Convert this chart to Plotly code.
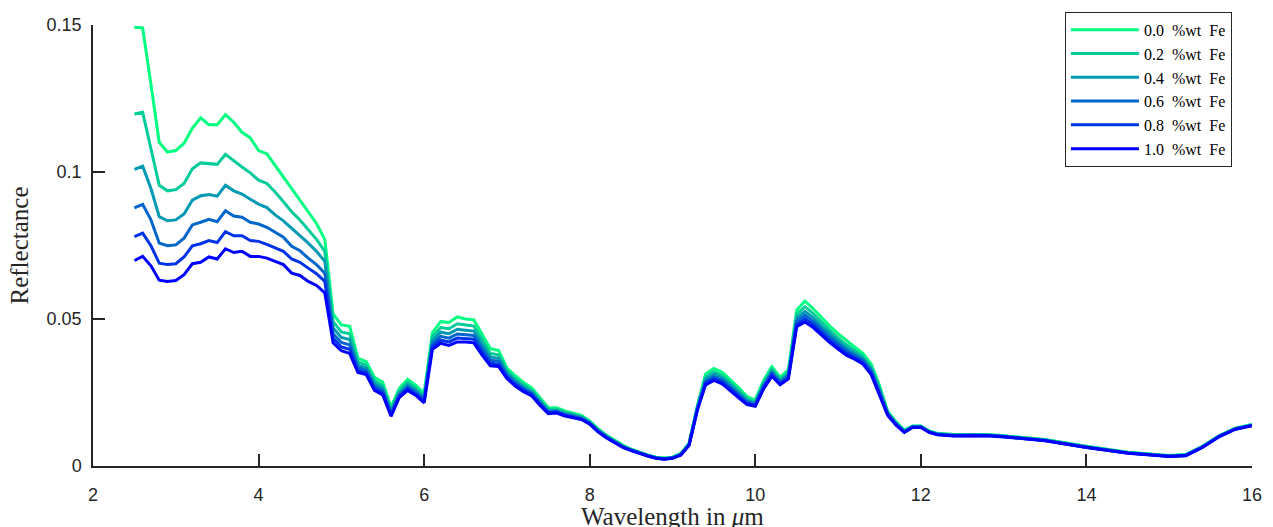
import plotly.graph_objects as go

wavelength = [2.5, 2.6, 2.7, 2.8, 2.9, 3.0, 3.1, 3.2, 3.3, 3.4, 3.5, 3.6, 3.7, 3.8, 3.9,
              4.0, 4.1, 4.2, 4.3, 4.4, 4.5, 4.6, 4.7, 4.8, 4.9,
              5.0, 5.1, 5.2, 5.3, 5.4, 5.5, 5.6, 5.7, 5.8, 5.9,
              6.0, 6.1, 6.2, 6.3, 6.4, 6.5, 6.6, 6.7, 6.8, 6.9,
              7.0, 7.1, 7.2, 7.3, 7.4, 7.5, 7.6, 7.7, 7.8, 7.9,
              8.0, 8.1, 8.2, 8.3, 8.4, 8.5, 8.6, 8.7, 8.8, 8.9,
              9.0, 9.1, 9.2, 9.3, 9.4, 9.5, 9.6, 9.7, 9.8, 9.9,
              10.0, 10.1, 10.2, 10.3, 10.4, 10.5, 10.6, 10.7, 10.8, 10.9,
              11.0, 11.1, 11.2, 11.3, 11.4, 11.5, 11.6, 11.7, 11.8, 11.9,
              12.0, 12.1, 12.2, 12.4, 12.6, 12.8, 13.0, 13.5, 14.0, 14.5,
              15.0, 15.2, 15.4, 15.6, 15.8, 16.0]

refl_fe00 = [0.1492, 0.1490, 0.1298, 0.1101, 0.1068, 0.1073, 0.1098, 0.1149, 0.1184, 0.1161, 0.1161, 0.1195, 0.1169, 0.1135, 0.1116,
             0.1073, 0.1062, 0.1023, 0.0983, 0.0944, 0.0904, 0.0865, 0.0825, 0.0771, 0.0517,
             0.0480, 0.0475, 0.0367, 0.0355, 0.0302, 0.0285, 0.0200, 0.0264, 0.0295, 0.0274,
             0.0247, 0.0454, 0.0491, 0.0488, 0.0507, 0.0500, 0.0497, 0.0449, 0.0399, 0.0393,
             0.0333, 0.0307, 0.0284, 0.0266, 0.0230, 0.0198, 0.0198, 0.0187, 0.0180, 0.0172,
             0.0153, 0.0127, 0.0105, 0.0088, 0.0071, 0.0057, 0.0047, 0.0038, 0.0030, 0.0027,
             0.0030, 0.0043, 0.0078, 0.0205, 0.0313, 0.0332, 0.0319, 0.0294, 0.0266, 0.0236,
             0.0225, 0.0291, 0.0338, 0.0302, 0.0327, 0.0530, 0.0561, 0.0535, 0.0504, 0.0476,
             0.0450, 0.0426, 0.0405, 0.0383, 0.0347, 0.0274, 0.0186, 0.0150, 0.0122, 0.0136,
             0.0136, 0.0119, 0.0111, 0.0107, 0.0108, 0.0107, 0.0103, 0.0090, 0.0067, 0.0047,
             0.0036, 0.0039, 0.0067, 0.0103, 0.0129, 0.0141]

refl_fe02 = [0.1197, 0.1203, 0.1079, 0.0955, 0.0936, 0.0940, 0.0961, 0.1011, 0.1031, 0.1028, 0.1026, 0.1060, 0.1037, 0.1017, 0.0997,
             0.0972, 0.0961, 0.0932, 0.0899, 0.0865, 0.0837, 0.0805, 0.0771, 0.0730, 0.0491,
             0.0456, 0.0450, 0.0354, 0.0343, 0.0290, 0.0273, 0.0192, 0.0256, 0.0285, 0.0265,
             0.0238, 0.0439, 0.0471, 0.0467, 0.0484, 0.0479, 0.0476, 0.0430, 0.0383, 0.0378,
             0.0324, 0.0298, 0.0276, 0.0258, 0.0224, 0.0193, 0.0193, 0.0182, 0.0176, 0.0168,
             0.0150, 0.0124, 0.0103, 0.0086, 0.0069, 0.0056, 0.0046, 0.0037, 0.0029, 0.0026,
             0.0029, 0.0041, 0.0076, 0.0201, 0.0303, 0.0321, 0.0308, 0.0284, 0.0257, 0.0229,
             0.0219, 0.0283, 0.0329, 0.0295, 0.0319, 0.0515, 0.0542, 0.0518, 0.0488, 0.0461,
             0.0436, 0.0413, 0.0394, 0.0373, 0.0337, 0.0266, 0.0182, 0.0147, 0.0120, 0.0135,
             0.0135, 0.0118, 0.0110, 0.0106, 0.0107, 0.0106, 0.0102, 0.0089, 0.0066, 0.0046,
             0.0035, 0.0038, 0.0066, 0.0102, 0.0128, 0.0140]

refl_fe04 = [0.1009, 0.1020, 0.0944, 0.0848, 0.0834, 0.0837, 0.0857, 0.0904, 0.0919, 0.0923, 0.0918, 0.0955, 0.0936, 0.0925, 0.0907,
             0.0891, 0.0879, 0.0854, 0.0834, 0.0809, 0.0786, 0.0758, 0.0730, 0.0696, 0.0469,
             0.0437, 0.0430, 0.0343, 0.0333, 0.0280, 0.0264, 0.0185, 0.0249, 0.0276, 0.0257,
             0.0231, 0.0426, 0.0455, 0.0450, 0.0465, 0.0462, 0.0459, 0.0414, 0.0371, 0.0366,
             0.0316, 0.0290, 0.0269, 0.0252, 0.0218, 0.0188, 0.0189, 0.0179, 0.0172, 0.0165,
             0.0148, 0.0122, 0.0101, 0.0084, 0.0067, 0.0055, 0.0045, 0.0036, 0.0028, 0.0025,
             0.0028, 0.0040, 0.0074, 0.0198, 0.0295, 0.0312, 0.0299, 0.0276, 0.0249, 0.0223,
             0.0214, 0.0277, 0.0322, 0.0289, 0.0312, 0.0503, 0.0526, 0.0504, 0.0475, 0.0449,
             0.0425, 0.0402, 0.0384, 0.0365, 0.0329, 0.0259, 0.0179, 0.0145, 0.0118, 0.0134,
             0.0134, 0.0117, 0.0109, 0.0105, 0.0106, 0.0105, 0.0101, 0.0088, 0.0065, 0.0045,
             0.0034, 0.0037, 0.0065, 0.0101, 0.0127, 0.0139]

refl_fe06 = [0.0878, 0.0890, 0.0837, 0.0758, 0.0749, 0.0752, 0.0775, 0.0820, 0.0829, 0.0839, 0.0831, 0.0868, 0.0850, 0.0846, 0.0829,
             0.0823, 0.0812, 0.0794, 0.0778, 0.0747, 0.0732, 0.0707, 0.0685, 0.0656, 0.0450,
             0.0420, 0.0412, 0.0334, 0.0325, 0.0271, 0.0256, 0.0179, 0.0243, 0.0269, 0.0251,
             0.0225, 0.0415, 0.0441, 0.0435, 0.0449, 0.0447, 0.0444, 0.0400, 0.0360, 0.0356,
             0.0309, 0.0283, 0.0263, 0.0247, 0.0214, 0.0184, 0.0186, 0.0175, 0.0169, 0.0162,
             0.0146, 0.0120, 0.0099, 0.0082, 0.0066, 0.0054, 0.0044, 0.0035, 0.0027, 0.0024,
             0.0027, 0.0039, 0.0073, 0.0195, 0.0288, 0.0304, 0.0292, 0.0269, 0.0243, 0.0218,
             0.0210, 0.0271, 0.0316, 0.0284, 0.0306, 0.0492, 0.0513, 0.0491, 0.0464, 0.0438,
             0.0415, 0.0393, 0.0376, 0.0359, 0.0323, 0.0253, 0.0176, 0.0143, 0.0117, 0.0133,
             0.0133, 0.0116, 0.0108, 0.0104, 0.0105, 0.0104, 0.0100, 0.0087, 0.0064, 0.0044,
             0.0033, 0.0036, 0.0064, 0.0100, 0.0126, 0.0138]

refl_fe08 = [0.0780, 0.0792, 0.0749, 0.0690, 0.0685, 0.0688, 0.0711, 0.0749, 0.0756, 0.0767, 0.0760, 0.0797, 0.0783, 0.0783, 0.0767,
             0.0764, 0.0754, 0.0741, 0.0730, 0.0704, 0.0693, 0.0673, 0.0654, 0.0628, 0.0434,
             0.0405, 0.0397, 0.0325, 0.0318, 0.0264, 0.0248, 0.0174, 0.0238, 0.0263, 0.0245,
             0.0220, 0.0406, 0.0428, 0.0422, 0.0435, 0.0434, 0.0431, 0.0388, 0.0350, 0.0346,
             0.0303, 0.0277, 0.0258, 0.0242, 0.0210, 0.0181, 0.0183, 0.0173, 0.0166, 0.0160,
             0.0144, 0.0118, 0.0097, 0.0080, 0.0064, 0.0053, 0.0043, 0.0035, 0.0027, 0.0024,
             0.0027, 0.0038, 0.0071, 0.0192, 0.0282, 0.0297, 0.0285, 0.0263, 0.0237, 0.0213,
             0.0206, 0.0266, 0.0310, 0.0280, 0.0301, 0.0482, 0.0501, 0.0481, 0.0454, 0.0428,
             0.0406, 0.0384, 0.0369, 0.0352, 0.0316, 0.0248, 0.0174, 0.0141, 0.0115, 0.0132,
             0.0132, 0.0115, 0.0107, 0.0103, 0.0104, 0.0104, 0.0100, 0.0087, 0.0064, 0.0044,
             0.0033, 0.0036, 0.0064, 0.0100, 0.0126, 0.0138]

refl_fe10 = [0.0699, 0.0713, 0.0681, 0.0632, 0.0628, 0.0631, 0.0651, 0.0688, 0.0693, 0.0711, 0.0704, 0.0739, 0.0726, 0.0730, 0.0713,
             0.0713, 0.0707, 0.0696, 0.0685, 0.0656, 0.0648, 0.0628, 0.0614, 0.0589, 0.0419,
             0.0392, 0.0383, 0.0318, 0.0311, 0.0257, 0.0242, 0.0169, 0.0233, 0.0257, 0.0240,
             0.0215, 0.0397, 0.0417, 0.0410, 0.0422, 0.0422, 0.0419, 0.0377, 0.0341, 0.0338,
             0.0298, 0.0272, 0.0253, 0.0238, 0.0206, 0.0178, 0.0180, 0.0170, 0.0164, 0.0158,
             0.0142, 0.0116, 0.0096, 0.0079, 0.0063, 0.0052, 0.0042, 0.0034, 0.0026, 0.0023,
             0.0026, 0.0037, 0.0070, 0.0190, 0.0276, 0.0291, 0.0279, 0.0257, 0.0232, 0.0209,
             0.0203, 0.0262, 0.0305, 0.0276, 0.0296, 0.0474, 0.0490, 0.0471, 0.0445, 0.0420,
             0.0398, 0.0377, 0.0363, 0.0347, 0.0311, 0.0243, 0.0172, 0.0139, 0.0114, 0.0131,
             0.0131, 0.0114, 0.0106, 0.0102, 0.0103, 0.0103, 0.0099, 0.0086, 0.0063, 0.0043,
             0.0032, 0.0035, 0.0063, 0.0099, 0.0125, 0.0137]

series_names = ["0.0&nbsp; %wt&nbsp; Fe", "0.2&nbsp; %wt&nbsp; Fe", "0.4&nbsp; %wt&nbsp; Fe",
                "0.6&nbsp; %wt&nbsp; Fe", "0.8&nbsp; %wt&nbsp; Fe", "1.0&nbsp; %wt&nbsp; Fe"]
series_values = [refl_fe00, refl_fe02, refl_fe04, refl_fe06, refl_fe08, refl_fe10]
series_colors = ["#00FF80", "#00CC99", "#0099B3", "#0066CC", "#0033E6", "#0000FF"]

x_ticks = [2, 4, 6, 8, 10, 12, 14, 16]
y_ticks = [0, 0.05, 0.1, 0.15]
y_tick_text = ["0", "0.05", "0.1", "0.15"]

fig = go.Figure()
for name, vals, col in zip(series_names, series_values, series_colors):
    fig.add_trace(go.Scatter(x=wavelength, y=vals, mode="lines", name=name,
                             line=dict(color=col, width=3)))

axis_color = "#262626"
fig.update_layout(
    width=1273, height=527,
    margin=dict(l=93, r=21, t=22, b=61),
    paper_bgcolor="white", plot_bgcolor="white",
    showlegend=True,
    legend=dict(x=0.9827, y=1.03, xanchor="right", yanchor="top",
                bgcolor="white", bordercolor=axis_color, borderwidth=1,
                font=dict(family="Liberation Serif", size=16, color="black"),
                itemwidth=68, tracegroupgap=0),
    font=dict(family="Liberation Sans", size=18, color=axis_color),
)
fig.update_xaxes(range=[2, 16], tickvals=x_ticks, ticks="inside", ticklen=12,
                 tickwidth=1.5, tickcolor=axis_color, showline=True, linecolor=axis_color,
                 linewidth=1.5, showgrid=False, zeroline=False, mirror=False,
                 ticklabelstandoff=12, tickfont=dict(family="Liberation Sans", size=18, color=axis_color))
fig.update_yaxes(range=[0, 0.15], tickvals=y_ticks, ticktext=y_tick_text, ticks="inside", ticklen=12,
                 tickwidth=1.5, tickcolor=axis_color, showline=True, linecolor=axis_color,
                 linewidth=1.5, showgrid=False, zeroline=False, mirror=False,
                 ticklabelstandoff=6, tickfont=dict(family="Liberation Sans", size=18, color=axis_color))

fig.add_annotation(text="Wavelength in <i>μ</i>m", xref="paper", yref="paper",
                   x=0.5, y=-0.079, xanchor="center", yanchor="top", showarrow=False,
                   font=dict(family="Liberation Serif", size=25, color=axis_color))
fig.add_annotation(text="Reflectance", xref="paper", yref="paper",
                   x=-0.063, y=0.5, xanchor="center", yanchor="middle", textangle=-90,
                   showarrow=False, font=dict(family="Liberation Serif", size=25, color=axis_color))

fig.write_html("out.html", config={"displayModeBar": False},
               post_script="document.body.style.margin='0';document.body.style.overflow='hidden';")
